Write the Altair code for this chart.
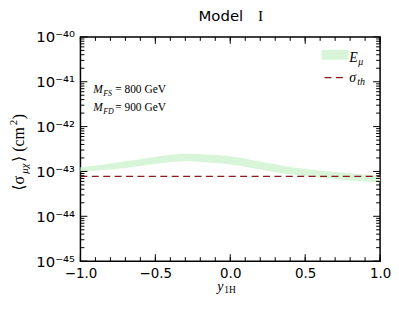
import altair as alt
import pandas as pd

# ---------------- data ----------------
x_vals = [-1.0, -0.8, -0.6, -0.45, -0.3, -0.15, 0.0, 0.2, 0.4, 0.6, 0.8, 1.0]
e_mu_upper = [1.24e-43, 1.51e-43, 1.86e-43, 2.24e-43, 2.48e-43, 2.40e-43,
              2.19e-43, 1.66e-43, 1.26e-43, 1.05e-43, 9.1e-44, 8.1e-44]
e_mu_lower = [9.7e-44, 1.10e-43, 1.32e-43, 1.55e-43, 1.68e-43, 1.58e-43,
              1.43e-43, 1.10e-43, 8.5e-44, 7.2e-44, 6.3e-44, 5.75e-44]
sigma_th = 7.8e-44

x_domain = [-1.0, 1.0]
y_domain = [1e-45, 1e-40]
x_major = [-1.0, -0.5, 0.0, 0.5, 1.0]
x_minor = [round(-1 + 0.1 * i, 2) for i in range(21)]
y_exponents = [-45, -44, -43, -42, -41, -40]
y_major = [10.0 ** e for e in y_exponents]
y_minor = [k * 10.0 ** e for e in y_exponents[:-1] for k in range(2, 10)]
y_tick_labels = ["10⁻⁴⁵", "10⁻⁴⁴", "10⁻⁴³", "10⁻⁴²", "10⁻⁴¹", "10⁻⁴⁰"]

W, H = 302, 226
GREEN = "#d9f5d9"
RED = "#8b1a1a"
SERIF = "Liberation Serif, DejaVu Serif"

band_df = pd.DataFrame({"x": x_vals, "upper": e_mu_upper, "lower": e_mu_lower})
th_df = pd.DataFrame({"x": x_domain, "y": [sigma_th, sigma_th]})

xs = alt.Scale(domain=x_domain, nice=False, zero=False)
ys = alt.Scale(type="log", domain=y_domain, nice=False)

label_expr = " : ".join(
    f"round(log(datum.value)/LN10) == {e} ? '{lab}'" for e, lab in zip(y_exponents, y_tick_labels)
) + " : ''"

AX = alt.Axis(values=x_major, format=".1f", ticks=False, domain=False, grid=False, title=None,
              labelFont="DejaVu Sans", labelFontSize=13.5, labelColor="#000", labelPadding=5,
              labelFlush=False, labelOverlap=False)
AY = alt.Axis(values=y_major, labelExpr=label_expr, ticks=False, domain=False, grid=False,
              title=None, labelFont="DejaVu Sans", labelFontSize=15, labelColor="#000",
              labelPadding=6, labelFlush=False, labelOverlap=False)

band = alt.Chart(band_df).mark_area(color=GREEN, interpolate="monotone").encode(
    x=alt.X("x:Q", scale=xs, axis=AX),
    y=alt.Y("upper:Q", scale=ys, axis=AY),
    y2="lower:Q",
)

th_line = alt.Chart(th_df).mark_line(color=RED, strokeDash=[7, 4.5], strokeWidth=1.3).encode(
    x=alt.X("x:Q", scale=xs, axis=AX), y=alt.Y("y:Q", scale=ys, axis=AY)
)


def rules_y(vals, length, side):
    df = pd.DataFrame({"v": vals})
    x0 = 0 if side == "left" else W
    x1 = length if side == "left" else W - length
    return alt.Chart(df).mark_rule(color="#000", strokeWidth=1).encode(
        y=alt.Y("v:Q", scale=ys, axis=AY), x=alt.value(x0), x2=alt.value(x1)
    )


def rules_x(vals, length, side):
    df = pd.DataFrame({"v": vals})
    y0 = H if side == "bottom" else 0
    y1 = H - length if side == "bottom" else length
    return alt.Chart(df).mark_rule(color="#000", strokeWidth=1).encode(
        x=alt.X("v:Q", scale=xs, axis=AX), y=alt.value(y0), y2=alt.value(y1)
    )


ticks = [
    rules_y(y_major, 7, "left"), rules_y(y_minor, 4, "left"),
    rules_y(y_major, 7, "right"), rules_y(y_minor, 4, "right"),
    rules_x(x_major, 7, "bottom"), rules_x(x_minor, 4, "bottom"),
    rules_x(x_major, 7, "top"), rules_x(x_minor, 4, "top"),
]


def txt(s, x, y, size, font=SERIF, style="normal", align="left", baseline="alphabetic", angle=0,
        color="#000"):
    return alt.Chart(pd.DataFrame({"t": [s]})).mark_text(
        font=font, fontSize=size, fontStyle=style, align=align, baseline=baseline,
        angle=angle, color=color
    ).encode(text="t:N", x=alt.value(x), y=alt.value(y))


texts = [
    # title
    txt("Model", 119, -16, 15, font="DejaVu Sans"),
    txt("I", 179, -16, 15.5),
    # x-axis title
    txt("y", 138, 256, 14, style="italic"),
    txt("1H", 145, 258.5, 9.5),
    # y-axis title (rotated, reading bottom to top)
    txt("⟨σ", -57, 155, 16, angle=270),
    txt("μχ", -53, 138, 11, style="italic", angle=270),
    txt("⟩ (cm", -57, 126, 16, angle=270),
    txt("2", -64, 89, 11, angle=270),
    txt(")", -57, 83, 16, angle=270),
    # annotations
    txt("M", 13, 57, 11.5, style="italic"),
    txt("FS", 23, 59.5, 8, style="italic"),
    txt("= 800 GeV", 35, 57, 11.5),
    txt("M", 13, 75, 11.5, style="italic"),
    txt("FD", 23, 77.5, 8, style="italic"),
    txt("= 900 GeV", 35, 75, 11.5),
    # legend labels
    txt("E", 271, 25, 14, style="italic"),
    txt("μ", 280, 28, 10, style="italic"),
    txt("σ", 271, 45, 14, style="italic"),
    txt("th", 279, 48, 10, style="italic"),
]

legend_rect = alt.Chart(pd.DataFrame({"k": ["E"]})).mark_rect(color=GREEN).encode(
    x=alt.value(243), x2=alt.value(270), y=alt.value(13), y2=alt.value(23)
)
legend_line = alt.Chart(pd.DataFrame({"k": ["s"]})).mark_rule(
    color=RED, strokeDash=[7, 4.5], strokeWidth=1.3
).encode(x=alt.value(246), x2=alt.value(265), y=alt.value(41))

chart = alt.layer(band, th_line, *ticks, legend_rect, legend_line, *texts).properties(
    width=W, height=H, padding=0
).configure_view(stroke="#000", strokeWidth=1.5)

chart.save("out.html", embed_options={"renderer": "svg", "actions": False})
